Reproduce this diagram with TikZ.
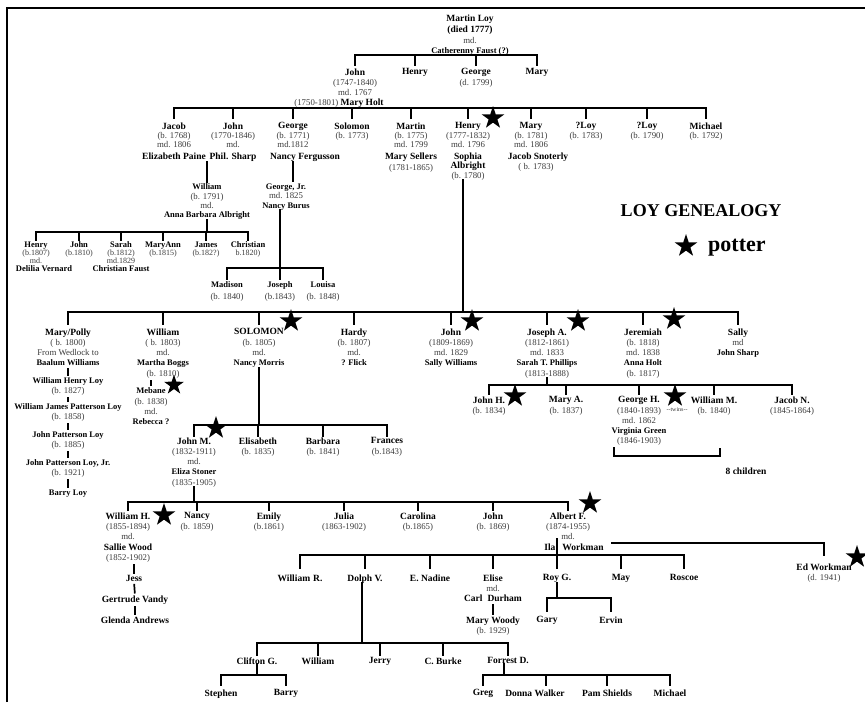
\documentclass[tikz,border=0pt]{standalone}
\usepackage{fontspec}
\setmainfont{Liberation Serif}
\usetikzlibrary{calc,shapes.geometric}
\definecolor{LoyGray}{HTML}{3A3A3A}

\newcommand\nm[1]{{\fontsize{9.5}{10}\selectfont\bfseries\color{black}#1}}
\newcommand\nb[1]{{\fontsize{8.5}{9}\selectfont\bfseries\color{black}#1}}

\tikzset{
    person/.style={align=center, anchor=north, inner sep=0pt, outer sep=0pt,
        text=LoyGray, font=\fontsize{8.8}{10.3}\selectfont},
    tightfam/.style={font=\fontsize{8.8}{9.3}\selectfont},
    smallfam/.style={font=\fontsize{8}{8}\selectfont},
    tie/.style={line width=1.7pt, line cap=rect},
    link/.style={line width=1.7pt, shorten <=2pt, shorten >=2pt},
    potter/.style={star, star points=5, star point ratio=2.6, fill=black,
        inner sep=0pt, minimum size=24pt}
}

\begin{document}
\begin{tikzpicture}[x=1pt, y=-1pt]
\useasboundingbox (0,0) rectangle (865,702);
\def\yBarA{55}
\def\yBarB{108}
\def\yBarW{232}
\def\yBarG{268}
\def\yBarC{312}
\def\yBarJ{385}
\def\yBarS{425}
\def\yBarM{502}
\def\yBarF{555}
\def\yBarR{598}
\def\yBarD{643}
\def\yBarK{675}
\coordinate (barA) at (0,\yBarA);
\coordinate (barB) at (0,\yBarB);
\coordinate (barW) at (0,\yBarW);
\coordinate (barG) at (0,\yBarG);
\coordinate (barC) at (0,\yBarC);
\coordinate (barJ) at (0,\yBarJ);
\coordinate (barS) at (0,\yBarS);
\coordinate (barM) at (0,\yBarM);
\coordinate (barF) at (0,\yBarF);
\coordinate (barR) at (0,\yBarR);
\coordinate (barD) at (0,\yBarD);
\coordinate (barK) at (0,\yBarK);

\draw[line width=2pt] (7,702) -- (7,8) -- (865,8);

% first generations
\node[person] (martin) at (470,14.5) {\nm{Martin Loy}\\[1.5pt]\nm{(died 1777)}\\md.\\\nb{Catherenny Faust (?)}};

\node[person] (john1) at (355,68.5) {\nm{John}\\(1747-1840)\\md. 1767\\\hspace*{-32pt}(1750-1801) \nm{Mary Holt}};
\node[person] (henry1) at (415,68.5) {\nm{Henry}};
\node[person] (george1) at (476,68.5) {\nm{George}\\(d. 1799)};
\node[person] (mary1) at (537,68.5) {\nm{Mary}};

\node[person, tightfam] (jacob) at (174,122.5) {\nm{Jacob}\\(b. 1768)\\md. 1806\\[3pt]\nm{Elizabeth Paine}};
\node[person, tightfam] (john2) at (233,122.5) {\nm{John}\\(1770-1846)\\md.\\[3pt]\nm{Phil. Sharp}};
\node[person, tightfam] (george2) at (293,122.5) {\nm{George}\\(b. 1771)\\md.1812\\[3pt]\hspace*{24pt}\nm{Nancy Fergusson}};
\node[person, tightfam] (solomon1) at (352,122.5) {\nm{Solomon}\\(b. 1773)};
\node[person, tightfam] (martin2) at (411,122.5) {\nm{Martin}\\(b. 1775)\\md. 1799\\[3pt]\nm{Mary Sellers}\\[1pt](1781-1865)};
\node[person, tightfam] (henry2) at (468,122.5) {\nm{Henry}\\(1777-1832)\\md. 1796\\[3pt]\nm{Sophia}\\\nm{Albright}\\(b. 1780)};
\node[person, tightfam] (mary2) at (531,122.5) {\nm{Mary}\\(b. 1781)\\md. 1806\\[3pt]\hspace*{14pt}\nm{Jacob Snoterly}\\[1pt]\hspace*{10pt}( b. 1783)};
\node[person, tightfam] (loy1) at (586,122.5) {\nm{?Loy}\\(b. 1783)};
\node[person, tightfam] (loy2) at (647,122.5) {\nm{?Loy}\\(b. 1790)};
\node[person, tightfam] (michael1) at (706,122.5) {\nm{Michael}\\(b. 1792)};

\node[person, tightfam] (william1) at (207,184) {\nb{William}\\(b. 1791)\\md.\\\nb{Anna Barbara Albright}};
\node[person, tightfam] (georgejr) at (286,184) {\nb{George, Jr.}\\md. 1825\\\nb{Nancy Burus}};

\node[person, smallfam] (henry3) at (36,242) {\nb{Henry}\\(b.1807)\\md.\\\hspace*{16pt}\nb{Delilia Vernard}};
\node[person, smallfam] (john3) at (79,242) {\nb{John}\\(b.1810)};
\node[person, smallfam] (sarah) at (121,242) {\nb{Sarah}\\(b.1812)\\md.1829\\\nb{Christian Faust}};
\node[person, smallfam] (maryann) at (163,242) {\nb{MaryAnn}\\(b.1815)};
\node[person, smallfam] (james) at (206,242) {\nb{James}\\(b.182?)};
\node[person, smallfam] (christian) at (248,242) {\nb{Christian}\\b.1820)};

\node[person, tightfam] (madison) at (227,282) {\nb{Madison}\\[2pt](b. 1840)};
\node[person, tightfam] (joseph1) at (280,282) {\nb{Joseph}\\[2pt](b.1843)};
\node[person, tightfam] (louisa) at (323,282) {\nb{Louisa}\\[2pt](b. 1848)};

% Henry's children
\node[person] (polly) at (68,328.5) {\nm{Mary/Polly}\\( b. 1800)\\From Wedlock to\\\nb{Baalum Williams}};
\node[person] (william2) at (163,328.5) {\nm{William}\\( b. 1803)\\md.\\\nb{Martha Boggs}\\(b. 1810)};
\node[person] (solomon2) at (259,328.5) {\nm{SOLOMON}\\(b. 1805)\\md.\\\nb{Nancy Morris}};
\node[person] (hardy) at (354,328.5) {\nm{Hardy}\\(b. 1807)\\md.\\\nb{? Flick}};
\node[person] (john4) at (451,328.5) {\nm{John}\\(1809-1869)\\md. 1829\\\nb{Sally Williams}};
\node[person] (josepha) at (547,328.5) {\nm{Joseph A.}\\(1812-1861)\\md. 1833\\\nb{Sarah T. Phillips}\\(1813-1888)};
\node[person] (jeremiah) at (643,328.5) {\nm{Jeremiah}\\(b. 1818)\\md. 1838\\\nb{Anna Holt}\\(b. 1817)};
\node[person] (sally) at (738,328.5) {\nm{Sally}\\md\\\nb{John Sharp}};

\node[person, tightfam] (whl) at (68,378) {\nb{William Henry Loy}\\(b. 1827)};
\node[person, tightfam] (wjpl) at (68,404) {\nb{William James Patterson Loy}\\(b. 1858)};
\node[person, tightfam] (jpl) at (68,432) {\nb{John Patterson Loy}\\(b. 1885)};
\node[person, tightfam] (jplj) at (68,460) {\nb{John Patterson Loy, Jr.}\\(b. 1921)};
\node[person, tightfam] (barry1) at (68,490) {\nb{Barry Loy}};

\node[person] (mebane) at (151,388) {\nb{Mebane}\\(b. 1838)\\md.\\\nb{Rebecca ?}};

\node[person] (johnh) at (489,396.5) {\nm{John H.}\\(b. 1834)};
\node[person] (marya) at (566,396.5) {\nm{Mary A.}\\(b. 1837)};
\node[person] (georgeh) at (639,396.5) {\nm{George H.}\\(1840-1893)\\md. 1862\\\nb{Virginia Green}\\(1846-1903)};
\node[person] (williamm) at (714,396.5) {\nm{William M.}\\(b. 1840)};
\node[person] (jacobn) at (792,396.5) {\nm{Jacob N.}\\(1845-1864)};
\node[person, font=\fontsize{6}{6}\selectfont] (twins) at (677,408) {-{}-twins-{}-};
\node[person] (kids8) at (746,467.5) {\nm{8 children}};

\node[person] (johnm) at (194,437.5) {\nm{John M.}\\(1832-1911)\\md.\\\nb{Eliza Stoner}\\(1835-1905)};
\node[person] (elisabeth) at (258,437.5) {\nm{Elisabeth}\\(b. 1835)};
\node[person] (barbara) at (323,437.5) {\nm{Barbara}\\(b. 1841)};
\node[person] (frances) at (387,437.5) {\nm{Frances}\\(b.1843)};

\node[person] (williamh) at (128,512.5) {\nm{William H.}\\(1855-1894)\\md.\\\nm{Sallie Wood}\\(1852-1902)};
\node[person] (nancy) at (197,512.5) {\nm{Nancy}\\(b. 1859)};
\node[person] (emily) at (269,512.5) {\nm{Emily}\\(b.1861)};
\node[person] (julia) at (344,512.5) {\nm{Julia}\\(1863-1902)};
\node[person] (carolina) at (418,512.5) {\nm{Carolina}\\(b.1865)};
\node[person] (john5) at (493,512.5) {\nm{John}\\(b. 1869)};
\node[person] (albert) at (568,512.5) {\nm{Albert F.}\\(1874-1955)\\md.\\\hspace*{12pt}\nm{Ila\hspace{7pt}Workman}};

\node[person] (jess) at (134,575.5) {\nm{Jess}};
\node[person] (gertrude) at (135,595.5) {\nm{Gertrude Vandy}};
\node[person] (glenda) at (135,616.5) {\nm{Glenda Andrews}};

\node[person] (williamr) at (300,574.5) {\nm{William\hspace{3pt}R.}};
\node[person] (dolph) at (365,574.5) {\nm{Dolph V.}};
\node[person] (enadine) at (430,574.5) {\nm{E. Nadine}};
\node[person] (elise) at (493,574.5) {\nm{Elise}\\md.\\\nm{Carl\hspace{5pt}Durham}};
\node[person] (roy) at (557,574.5) {\nm{Roy G.}};
\node[person] (may) at (621,574.5) {\nm{May}};
\node[person] (roscoe) at (684,574.5) {\nm{Roscoe}};
\node[person] (marywoody) at (493,616.5) {\nm{Mary Woody}\\(b. 1929)};
\node[person] (gary) at (547,616.5) {\nm{Gary}};
\node[person] (ervin) at (611,616.5) {\nm{Ervin}};
\node[person] (ed) at (824,563.5) {\nm{Ed Workman}\\(d. 1941)};

\node[person] (clifton) at (257,657.5) {\nm{Clifton G.}};
\node[person] (william6) at (318,657.5) {\nm{William}};
\node[person] (jerry) at (380,657.5) {\nm{Jerry}};
\node[person] (cburke) at (443,657.5) {\nm{C. Burke}};
\node[person] (forrest) at (508,657.5) {\nm{Forrest D.}};
\node[person] (stephen) at (221,689.5) {\nm{Stephen}};
\node[person] (barry2) at (286,689.5) {\nm{Barry}};
\node[person] (greg) at (483,689.5) {\nm{Greg}};
\node[person] (donna) at (535,689.5) {\nm{Donna Walker}};
\node[person] (pam) at (607,689.5) {\nm{Pam Shields}};
\node[person] (michael2) at (670,689.5) {\nm{Michael}};

% legend
\node[font=\fontsize{18}{18}\selectfont\bfseries] (title) at (701,211) {LOY GENEALOGY};
\node[font=\fontsize{22}{22}\selectfont\bfseries, anchor=base west, inner sep=0pt] (keytext) at (708,251) {potter};

% family lines
\draw[tie] (martin.south) -- (martin.south |- barA);
\draw[tie] (john1 |- barA) -- (mary1 |- barA);
\foreach \kid in {john1,henry1,george1,mary1}
    \draw[tie] (\kid |- barA) -- ([yshift=3pt]\kid.north);

\draw[tie] (john1.south) -- (john1.south |- barB);
\draw[tie] (jacob |- barB) -- (michael1 |- barB);
\foreach \kid in {jacob,john2,george2,solomon1,martin2,henry2,mary2,loy1,loy2,michael1}
    \draw[tie] (\kid |- barB) -- ([yshift=4pt]\kid.north);

\draw[tie] (william1.north |- john2.south) -- ([yshift=2pt]william1.north);
\draw[tie] (william1.south) -- (william1.south |- barW);
\draw[tie] (henry3 |- barW) -- (christian |- barW);
\foreach \kid in {henry3,john3,sarah,maryann,james,christian}
    \draw[tie] (\kid |- barW) -- ([yshift=2pt]\kid.north);

\draw[tie] (george2.south) -- ([yshift=3pt]george2.south |- georgejr.north);
\draw[tie] ([xshift=-6pt]georgejr.south) -- ([xshift=-6pt]georgejr.south |- barG);
\draw[tie] (madison |- barG) -- (louisa |- barG);
\foreach \kid in {madison,joseph1,louisa}
    \draw[tie] (\kid |- barG) -- ([yshift=3pt]\kid.north);

\draw[tie] ([xshift=-5pt]henry2.south) -- ([xshift=-5pt]henry2.south |- barC);
\draw[tie] (polly |- barC) -- (sally |- barC);
\foreach \kid in {polly,william2,solomon2,hardy,john4,josepha,jeremiah,sally}
    \draw[tie] (\kid |- barC) -- ([yshift=4pt]\kid.north);

\draw[link] (polly.south) -- (whl.north);
\draw[link] (whl.south) -- (wjpl.north);
\draw[link] (wjpl.south) -- (jpl.north);
\draw[link] (jpl.south) -- (jplj.north);
\draw[link] (jplj.south) -- (barry1.north);
\draw[link] (mebane.north |- william2.south) -- (mebane.north);

\draw[tie] (josepha.south) -- (josepha.south |- barJ);
\draw[tie] (johnh |- barJ) -- (jacobn |- barJ);
\foreach \kid in {johnh,marya,georgeh,williamm,jacobn}
    \draw[tie] (\kid |- barJ) -- ([yshift=2pt]\kid.north);
\coordinate (kidsbend) at (720,456);
\draw[tie] ([xshift=-25pt,yshift=-2pt]georgeh.south) |- (kidsbend) -- ([yshift=7pt]kidsbend);

\draw[tie] (solomon2.south) -- (solomon2.south |- barS);
\draw[tie] (johnm |- barS) -- (frances |- barS);
\foreach \kid in {johnm,elisabeth,barbara,frances}
    \draw[tie] (\kid |- barS) -- ([yshift=1pt]\kid.north);

\draw[tie] (johnm.south) -- (johnm.south |- barM);
\draw[tie] (williamh |- barM) -- (albert |- barM);
\foreach \kid in {williamh,nancy,emily,julia,carolina,john5,albert}
    \draw[tie] (\kid |- barM) -- ([yshift=2pt]\kid.north);
\draw[link] (jess.north |- williamh.south) -- (jess.north);
\draw[link] (jess.south) -- (gertrude.north);
\draw[link] (gertrude.south) -- (glenda.north);

\coordinate (ilatop) at (557,539);
\coordinate (ilaend) at (612,543);
\draw[tie] (ilatop) -- (ilatop |- barF);
\draw[tie] (ilaend) -| ([yshift=8pt]ed.north);
\draw[tie] (williamr |- barF) -- (roscoe |- barF);
\foreach \kid in {williamr,dolph,enadine,elise,roy,may,roscoe}
    \draw[tie] (\kid |- barF) -- ([yshift=6pt]\kid.north);
\draw[link] (elise.south) -- (marywoody.north);
\draw[tie] (roy.south) -- (roy.south |- barR);
\draw[tie] (gary |- barR) -- (ervin |- barR);
\foreach \kid in {gary,ervin}
    \draw[tie] (\kid |- barR) -- ([yshift=5pt]\kid.north);

\draw[tie] ([xshift=-3pt]dolph.south) -- ([xshift=-3pt]dolph.south |- barD);
\draw[tie] (clifton |- barD) -- (forrest |- barD);
\foreach \kid in {clifton,william6,jerry,cburke,forrest}
    \draw[tie] (\kid |- barD) -- ([yshift=2pt]\kid.north);
\draw[tie] (clifton.south) -- (clifton.south |- barK);
\draw[tie] (stephen |- barK) -- (barry2 |- barK);
\foreach \kid in {stephen,barry2}
    \draw[tie] (\kid |- barK) -- ([yshift=4pt]\kid.north);
\draw[tie] ([xshift=-4pt]forrest.south) -- ([xshift=-4pt]forrest.south |- barK);
\draw[tie] (greg |- barK) -- (michael2 |- barK);
\foreach \kid/\dx in {greg/0,donna/11,pam/0,michael2/0}
    \draw[tie] ([xshift=\dx pt]\kid |- barK) -- ([xshift=\dx pt,yshift=4pt]\kid.north);

% potters
\node[potter] (sHenry) at (493,118) {};
\node[potter] (sSolomon) at (291,321) {};
\node[potter] (sJohn) at (472,321) {};
\node[potter] (sJoseph) at (578,321) {};
\node[potter] (sJeremiah) at (674,319) {};
\node[potter, minimum size=21pt] (sMebane) at (174,385) {};
\node[potter] (sJohnM) at (216,428) {};
\node[potter] (sJohnH) at (515,396) {};
\node[potter] (sGeorgeH) at (675,396) {};
\node[potter] (sWilliamH) at (164,515) {};
\node[potter] (sAlbert) at (590,503) {};
\node[potter] (sEd) at (857,557) {};
\node[potter] (keystar) at (686,246) {};

\end{tikzpicture}
\end{document}
